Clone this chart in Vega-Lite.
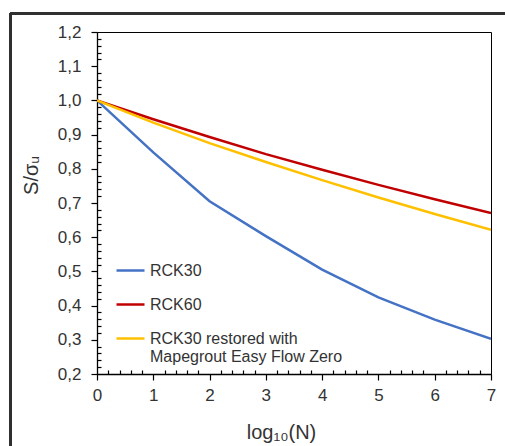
{
  "$schema": "https://vega.github.io/schema/vega-lite/v6.json",
  "autosize": {"type": "none"},
  "width": 394,
  "height": 342,
  "padding": {"left": 97, "top": 32, "right": 14, "bottom": 72},
  "background": "white",
  "config": {
    "view": {"stroke": "black", "strokeWidth": 1},
    "font": "Liberation Sans"
  },
  "data": {
    "values": [
      {"series": "RCK30", "x": 0, "y": 1.0},
      {"series": "RCK30", "x": 1, "y": 0.848},
      {"series": "RCK30", "x": 2, "y": 0.705},
      {"series": "RCK30", "x": 3, "y": 0.603},
      {"series": "RCK30", "x": 4, "y": 0.505},
      {"series": "RCK30", "x": 5, "y": 0.424},
      {"series": "RCK30", "x": 6, "y": 0.359},
      {"series": "RCK30", "x": 7, "y": 0.303},
      {"series": "RCK60", "x": 0, "y": 1.0},
      {"series": "RCK60", "x": 1, "y": 0.945},
      {"series": "RCK60", "x": 2, "y": 0.893},
      {"series": "RCK60", "x": 3, "y": 0.843},
      {"series": "RCK60", "x": 4, "y": 0.797},
      {"series": "RCK60", "x": 5, "y": 0.753},
      {"series": "RCK60", "x": 6, "y": 0.711},
      {"series": "RCK60", "x": 7, "y": 0.671},
      {"series": "RCK30 restored with Mapegrout Easy Flow Zero", "x": 0, "y": 1.0},
      {"series": "RCK30 restored with Mapegrout Easy Flow Zero", "x": 1, "y": 0.935},
      {"series": "RCK30 restored with Mapegrout Easy Flow Zero", "x": 2, "y": 0.875},
      {"series": "RCK30 restored with Mapegrout Easy Flow Zero", "x": 3, "y": 0.82},
      {"series": "RCK30 restored with Mapegrout Easy Flow Zero", "x": 4, "y": 0.767},
      {"series": "RCK30 restored with Mapegrout Easy Flow Zero", "x": 5, "y": 0.716},
      {"series": "RCK30 restored with Mapegrout Easy Flow Zero", "x": 6, "y": 0.668},
      {"series": "RCK30 restored with Mapegrout Easy Flow Zero", "x": 7, "y": 0.622}
    ]
  },
  "layer": [
    {
      "mark": {"type": "rule", "stroke": "#303030", "strokeWidth": 1.6, "clip": false},
      "encoding": {
        "x": {"datum": -1.537, "type": "quantitative", "scale": {"domain": [0, 7], "nice": false, "zero": false}},
        "y": {"datum": 1.2541, "type": "quantitative", "scale": {"domain": [0.2, 1.2], "nice": false, "zero": false}},
        "y2": {"datum": -0.2}
      }
    },
    {
      "mark": {"type": "rule", "stroke": "#303030", "strokeWidth": 1.6, "clip": false},
      "encoding": {
        "x": {"datum": -1.537, "type": "quantitative", "scale": {"domain": [0, 7], "nice": false, "zero": false}},
        "x2": {"datum": 8.5},
        "y": {"datum": 1.2541, "type": "quantitative", "scale": {"domain": [0.2, 1.2], "nice": false, "zero": false}}
      }
    },
    {
      "mark": {"type": "line", "strokeWidth": 2.5, "clip": true},
      "encoding": {
        "x": {
          "field": "x",
          "type": "quantitative",
          "scale": {"domain": [0, 7], "nice": false, "zero": false},
          "axis": {
            "values": [0, 0.2, 0.4, 0.6, 0.8, 1, 1.2, 1.4, 1.6, 1.8, 2, 2.2, 2.4, 2.6, 2.8, 3, 3.2, 3.4, 3.6, 3.8, 4, 4.2, 4.4, 4.6, 4.8, 5, 5.2, 5.4, 5.6, 5.8, 6, 6.2, 6.4, 6.6, 6.8, 7],
            "tickCount": 200,
            "labelExpr": "abs(datum.value - round(datum.value)) < 0.001 ? format(datum.value, 'd') : ''",
            "labelOverlap": false,
            "labelFlush": false,
            "labelFontSize": 17,
            "labelColor": "#333333",
            "labelPadding": 7,
            "grid": false,
            "domainColor": "black",
            "domainWidth": 1.3,
            "tickColor": "black",
            "tickWidth": 1.2,
            "tickSize": {"condition": {"test": "abs(datum.value - round(datum.value)) < 0.001", "value": 6}, "value": -4},
            "title": "log₁₀(N)",
            "titleFontSize": 20,
            "titleFontWeight": "normal",
            "titleColor": "#333333",
            "titleX": 184,
            "titleY": 64,
            "titleBaseline": "alphabetic"
          }
        },
        "y": {
          "field": "y",
          "type": "quantitative",
          "scale": {"domain": [0.2, 1.2], "nice": false, "zero": false},
          "axis": {
            "values": [0.2, 0.22, 0.24, 0.26, 0.28, 0.3, 0.32, 0.34, 0.36, 0.38, 0.4, 0.42, 0.44, 0.46, 0.48, 0.5, 0.52, 0.54, 0.56, 0.58, 0.6, 0.62, 0.64, 0.66, 0.68, 0.7, 0.72, 0.74, 0.76, 0.78, 0.8, 0.82, 0.84, 0.86, 0.88, 0.9, 0.92, 0.94, 0.96, 0.98, 1.0, 1.02, 1.04, 1.06, 1.08, 1.1, 1.12, 1.14, 1.16, 1.18, 1.2],
            "tickCount": 200,
            "labelExpr": "abs(datum.value * 10 - round(datum.value * 10)) < 0.01 ? replace(format(datum.value, '.1f'), '.', ',') : ''",
            "labelOverlap": false,
            "labelFlush": false,
            "labelFontSize": 17,
            "labelColor": "#333333",
            "labelPadding": 10,
            "grid": false,
            "domainColor": "black",
            "domainWidth": 1.3,
            "tickColor": "black",
            "tickWidth": 1.2,
            "tickSize": {"condition": {"test": "abs(datum.value * 10 - round(datum.value * 10)) < 0.01", "value": 6}, "value": -4},
            "title": "S/σᵤ",
            "titleFontSize": 20,
            "titleFontWeight": "normal",
            "titleColor": "#333333",
            "titleX": -60,
            "titleY": 143,
            "titleAngle": -90,
            "titleAlign": "center",
            "titleBaseline": "alphabetic"
          }
        },
        "color": {
          "field": "series",
          "type": "nominal",
          "scale": {
            "domain": ["RCK30", "RCK60", "RCK30 restored with Mapegrout Easy Flow Zero"],
            "range": ["#4472C4", "#C00000", "#FFC000"]
          },
          "legend": {
            "orient": "none",
            "legendX": 18,
            "legendY": 223,
            "padding": 0,
            "title": null,
            "symbolType": "stroke",
            "symbolSize": 784,
            "symbolStrokeWidth": 2.5,
            "labelFontSize": 16,
            "labelColor": "#333333",
            "labelOffset": 4,
            "labelLimit": 400,
            "rowPadding": 10,
            "labelExpr": "datum.label == 'RCK30 restored with Mapegrout Easy Flow Zero' ? ['RCK30 restored with', 'Mapegrout Easy Flow Zero'] : datum.label"
          }
        }
      }
    }
  ]
}
